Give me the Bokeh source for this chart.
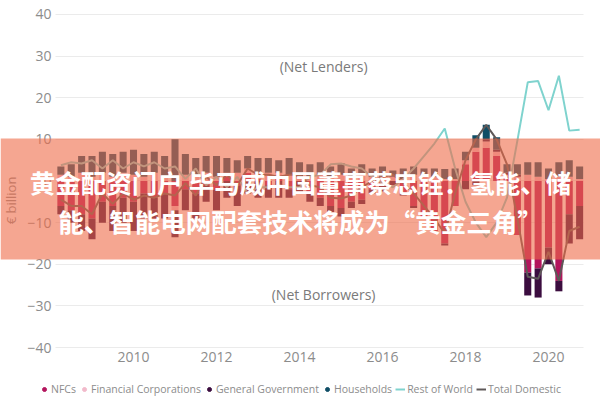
from bokeh.plotting import figure
from bokeh.models import (ColumnDataSource, BoxAnnotation, Label, Legend, LegendItem,
                          FixedTicker, Range1d)
from bokeh.embed import file_html
from bokeh.resources import INLINE

# ---------------- data (quarterly, € billion) ----------------
quarters = [f"{y}Q{q}" for y in range(2008, 2021) for q in range(1, 5)][:51]

nfc = [-6, -7, -8, -9,   -5, -6, -4, -5,   -3, -4, -3, -6,   -2, -3, -1, -2,
       1, -1, 2, 0.5,    -1, 1, -2, 0,     -3, -4, -6, -6.5, -5, -4.5, -2, -1,
       0, -3, -6, -9,    -12, -15, -6, 4,  7, 8, 6, 1,      -13, -22, -21, -16,
       -24, -8, -6]
fin = [1.5, 1, 2, 1,     2, 1, 2, 1.5,     1, 2, 1, -1,     1.5, 1, 2, 1,
       1, 2, 1, 1.5,     2, 1, 1.5, 1,     1, 1.5, 1, 1.5,   1, 1.5, 1, 1,
       1, 0.5, 1.5, 1,   1, 0.5, 0.5, 1,   1, 1.5, 1, 0.5,   1, 1.5, 1, 0.5,
       1, 1, 0.5]
gov = [-2, -3, -4, -5,   -5, -6, -6, -7,   -6, -5, -6, -6.5, -5, -6, -4, -5,
       -4, -5, -3, -4,   -3, -4, -2, -3,   -2, -2, -1.5, -2, -1.5, -1, -1, -1.5,
       -1, -0.5, -0.5, 0, 0, -0.5, 0, -2,  -1, 0.5, 0.5, 0.5, 0.5, -5.5, -7, -4,
       -2.5, -7, -8]
hh = [2, 3, 4, 5,        5, 5.5, 5, 6,     5.5, 5, 5, 10,    5, 4.5, 4, 5,
      3.5, 3, 3, 3.5,    3.5, 3, 4, 3.5,   3, 3, 2.5, 2.8,   2, 2.5, 2, 2.5,
      1.5, 2.5, 2, 2,    2, 2.4, 2.5, 2,   3, 3.5, 3, 2,     2.5, 3, 3.5, 2.5,
      3.5, 4, 3]
rest_of_world = [3.8, 4.5, 4.2, 5.0, 3, 5, 3, 4.5,  3.5, 4.5, 3, 3.5,  0.5, 3, -1, 1,
                 -1.5, 1, -3, -1.5, -1.5, -1, -1.5, -1.5, 1, 1.5, 4, 4.2, 3.5, 3, 1, -0.5,
                 -1.5, 0.5, 3, 6,  9, 12.6, 3, -5,  -10, -13.5, -10, -4,  9.7, 23.7, 24, 17,
                 25.3, 12.1, 12.3]
total_domestic = [-4.5, -6, -6, -8, -3, -5.5, -3, -4.5, -3.5, -4, -3, -3.5, -0.5, -3.5, 1, -1,
                  1.5, -1, 3, 1.5,  1.5, 1, 1.5, 1.5,  -1, -1.5, -4, -4.2, -3.5, -1.5, 0, 1,
                  1.5, -0.5, -3, -6, -9, -12.6, -3, 5,  10, 13.5, 10, 4,  -9, -23, -23.5, -17,
                  -24, -12, -11]

series_names = ["NFCs", "Financial Corporations", "General Government", "Households"]
series_vals = [nfc, fin, gov, hh]
series_cols = ["#B3155D", "#F2BACB", "#3B0D3F", "#0F4D66"]
row_col = "#7FD3CE"
td_col = "#5E5858"

y_ticks = [-40, -30, -20, -10, 0, 10, 20, 30, 40]
x_ticks = [2010, 2012, 2014, 2016, 2018, 2020]

title_lines = ["黄金配资门户 毕马威中国董事蔡忠铨：氢能、储",
               "能、智能电网配套技术将成为“黄金三角”"]

# --------------- build ---------------
xs = [int(q[:4]) + int(q[-1]) / 4 for q in quarters]

FONT = "Open Sans"
GRAY = "#8C8C8C"
X0, X1 = 2008.12, 2020.84          # extent of the plotting area (axis, grid)

p = figure(width=600, height=400, output_backend="svg", toolbar_location=None,
           x_range=Range1d(2006.795, 2021.253), y_range=Range1d(-52.73, 43.36),
           min_border_left=0, min_border_right=0, min_border_top=0, min_border_bottom=0)
p.outline_line_color = None
p.xgrid.grid_line_color = None
p.ygrid.grid_line_color = "#EBEBEB"
p.ygrid.ticker = FixedTicker(ticks=y_ticks)
try:
    p.ygrid.cross_bounds = (X0, X1)
    grid_ok = True
except Exception:
    grid_ok = False
if not grid_ok:
    p.ygrid.grid_line_color = None
    p.segment(x0=[X0] * len(y_ticks), x1=[X1] * len(y_ticks), y0=y_ticks, y1=y_ticks,
              line_color="#EBEBEB", line_width=1)

for ax in (p.xaxis[0], p.yaxis[0]):
    ax.axis_line_color = None
    ax.major_tick_line_color = None
    ax.minor_tick_line_color = None
    ax.major_tick_out = 0
    ax.major_tick_in = 0
    ax.minor_tick_out = 0
    ax.major_label_text_color = GRAY
    ax.major_label_text_font = FONT
    ax.major_label_text_font_size = "14px"
p.xaxis.ticker = FixedTicker(ticks=x_ticks)
p.yaxis.ticker = FixedTicker(ticks=y_ticks)
p.xaxis.fixed_location = -40
p.yaxis.fixed_location = X0
p.xaxis.major_label_standoff = 4
p.yaxis.major_label_standoff = 4
p.yaxis.axis_label = "€ billion"
p.yaxis.axis_label_text_color = GRAY
p.yaxis.axis_label_text_font = FONT
p.yaxis.axis_label_text_font_size = "13px"
p.yaxis.axis_label_text_font_style = "normal"
p.yaxis.axis_label_standoff = 4

# stacked bars, positives up and negatives down
pos_base = [0.0] * len(xs)
neg_base = [0.0] * len(xs)
for name, vals, col in zip(series_names, series_vals, series_cols):
    bot, top = [], []
    for i, v in enumerate(vals):
        if v >= 0:
            bot.append(pos_base[i]); top.append(pos_base[i] + v); pos_base[i] += v
        else:
            bot.append(neg_base[i]); top.append(neg_base[i] + v); neg_base[i] += v
    src = ColumnDataSource(dict(x=xs, bottom=bot, top=top))
    p.vbar(x="x", width=0.17, bottom="bottom", top="top", source=src,
           fill_color=col, line_color=None)

lsrc = ColumnDataSource(dict(x=xs, row=rest_of_world, td=total_domestic))
r_row = p.line("x", "row", source=lsrc, line_color=row_col, line_width=2)
r_td = p.line("x", "td", source=lsrc, line_color=td_col, line_width=2)

p.add_layout(Label(x=2014.58, y=27.6, text="(Net Lenders)", text_align="center",
                   text_baseline="middle", text_color="#7A7A7A", text_font=FONT,
                   text_font_size="14px"))
p.add_layout(Label(x=2014.58, y=-27.2, text="(Net Borrowers)", text_align="center",
                   text_baseline="middle", text_color="#7A7A7A", text_font=FONT,
                   text_font_size="14px"))

# legend (below the x axis labels)
items = []
for name, col in zip(series_names, series_cols):
    d = p.scatter(x=[1900], y=[0], marker="circle", size=6, fill_color=col, line_color=col)
    items.append(LegendItem(label=name, renderers=[d]))
items.append(LegendItem(label="Rest of World", renderers=[r_row]))
items.append(LegendItem(label="Total Domestic", renderers=[r_td]))
legend = Legend(items=items, orientation="horizontal", location="bottom_center",
                label_text_font=FONT, label_text_font_size="10.5px", label_text_color=GRAY,
                glyph_width=10, glyph_height=10, label_standoff=2, spacing=3,
                padding=2, margin=4, border_line_color=None, background_fill_alpha=0)
p.add_layout(legend)

# banner overlay
p.add_layout(BoxAnnotation(top=138, bottom=259, top_units="canvas", bottom_units="canvas",
                           fill_color="#EE6A48", fill_alpha=0.6, line_color=None,
                           level="overlay"))
for t, yc in zip(title_lines, [181, 220]):
    p.add_layout(Label(x=300, y=yc, x_units="canvas", y_units="canvas", text=t,
                       text_align="center", text_baseline="middle", text_color="white",
                       text_font="Noto Sans CJK SC", text_font_size="25.5px",
                       text_font_style="bold", level="overlay"))

open("out.html", "w").write(file_html(p, INLINE))
